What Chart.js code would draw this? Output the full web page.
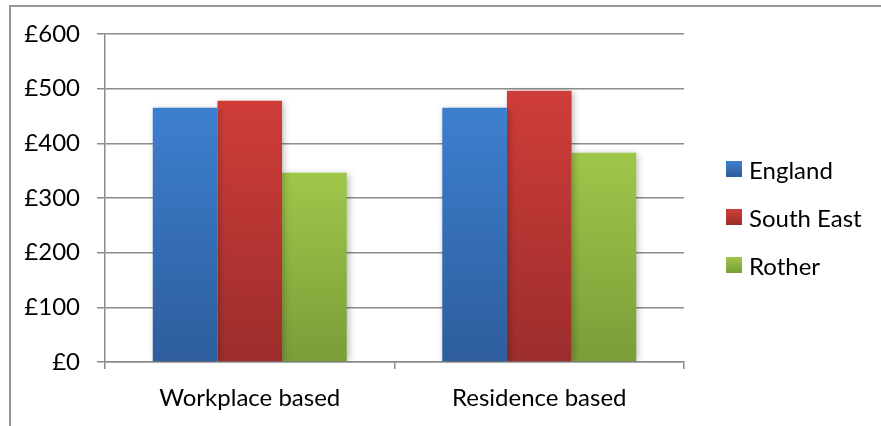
<!DOCTYPE html>
<html>
<head>
<meta charset="utf-8">
<script src="https://cdn.jsdelivr.net/npm/chart.js@4"></script>
<style>
  html, body { margin: 0; padding: 0; background: #fff; }
  #wrap { position: relative; width: 881px; height: 426px; overflow: hidden; }
  #legend { position: absolute; left: 726px; top: 156px; font-family: Lato, sans-serif; font-size: 24px; color: #000; }
  .item { display: flex; align-items: center; height: 26px; margin-bottom: 22px; }
  .swatch { width: 16px; height: 16px; margin-right: 7px; }
</style>
</head>
<body>
<div id="wrap">
  <canvas id="chart"></canvas>
  <div id="legend"></div>
</div>
<script>
// ====== Weekly earnings: workplace vs residence ======
const categories = ["Workplace based", "Residence based"];
const seriesNames = ["England", "South East", "Rother"];
const englandValues = [465, 465];
const southEastValues = [478, 496];
const rotherValues = [346, 383];
const yTickValues = [0, 100, 200, 300, 400, 500, 600];

const topColors = ["#3d7fcf", "#cf3d39", "#9ec74a"];
const bottomColors = ["#2d5d9c", "#9c2d2c", "#7a9d38"];

const FONT = "Lato";

// vertical gradient per bar, lighter at the top
function barFill(i) {
  return (ctx) => {
    const chart = ctx.chart;
    if (!chart.chartArea || !chart.scales.y || ctx.raw === undefined) return topColors[i];
    const y = chart.scales.y;
    const g = chart.ctx.createLinearGradient(0, y.getPixelForValue(ctx.raw), 0, y.getPixelForValue(0));
    g.addColorStop(0, topColors[i]);
    g.addColorStop(1, bottomColors[i]);
    return g;
  };
}

const values = [englandValues, southEastValues, rotherValues];
const datasets = seriesNames.map((name, i) => ({
  label: name,
  data: values[i],
  backgroundColor: barFill(i),
  borderWidth: 0,
  barPercentage: 1,
  categoryPercentage: 0.67
}));

// outer frame + soft drop shadow on the bars
const framePlugin = {
  id: "frame",
  beforeDraw(chart) {
    const c = chart.ctx;
    c.save();
    c.strokeStyle = "#979797";
    c.lineWidth = 2;
    c.beginPath();
    c.moveTo(10, chart.height);
    c.lineTo(10, 6);
    c.lineTo(chart.width, 6);
    c.stroke();
    c.restore();
  },
  beforeDatasetsDraw(chart) {
    const c = chart.ctx;
    c.save();
    c.shadowColor = "rgba(0,0,0,0.28)";
    c.shadowBlur = 7;
    c.shadowOffsetX = 2;
    c.shadowOffsetY = 1;
  },
  afterDatasetsDraw(chart) {
    chart.ctx.restore();
  }
};

const proChart = new Chart(document.getElementById("chart"), {
  type: "bar",
  data: { labels: categories, datasets: datasets },
  options: {
    responsive: true,
    maintainAspectRatio: false,
    animation: false,
    layout: { padding: { top: 34, right: 197, bottom: 0, left: 0 } },
    plugins: { legend: { display: false }, tooltip: { enabled: false } },
    scales: {
      x: {
        afterFit: (s) => { s.height = 64; },
        grid: { drawOnChartArea: false, drawTicks: true, tickLength: 7, color: "#8c8c8c", lineWidth: 1.5 },
        border: { display: true, color: "#8c8c8c", width: 1.5 },
        ticks: { color: "#000", padding: 15, font: { family: FONT, size: 24 } }
      },
      y: {
        min: 0,
        max: 600,
        afterFit: (s) => { s.width = 105; },
        afterBuildTicks: (s) => { s.ticks = yTickValues.map(v => ({ value: v })); },
        grid: { color: "#8c8c8c", lineWidth: 1.5, tickLength: 8 },
        border: { display: true, color: "#8c8c8c", width: 1.5 },
        ticks: { color: "#000", padding: 17, font: { family: FONT, size: 24 }, callback: (v) => "£" + v }
      }
    }
  },
  plugins: [framePlugin]
});

// legend built from the datasets
const legend = document.getElementById("legend");
seriesNames.forEach((name, i) => {
  const item = document.createElement("div");
  item.className = "item";
  const sw = document.createElement("span");
  sw.className = "swatch";
  sw.style.background = `linear-gradient(${topColors[i]}, ${bottomColors[i]})`;
  const txt = document.createElement("span");
  txt.textContent = name;
  item.appendChild(sw);
  item.appendChild(txt);
  legend.appendChild(item);
});
</script>
</body>
</html>
